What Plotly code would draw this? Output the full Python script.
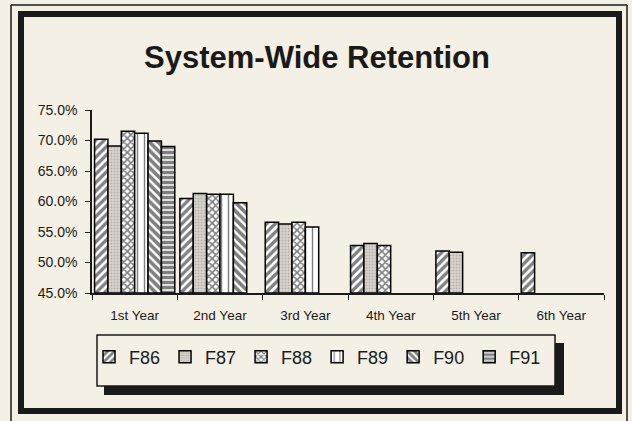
import plotly.graph_objects as go

categories = ["1st Year", "2nd Year", "3rd Year", "4th Year", "5th Year", "6th Year"]
series_names = ["F86", "F87", "F88", "F89", "F90", "F91"]
f86 = [70.2, 60.5, 56.6, 52.8, 51.9, 51.6]
f87 = [69.1, 61.3, 56.3, 53.1, 51.7, None]
f88 = [71.5, 61.2, 56.6, 52.8, None, None]
f89 = [71.2, 61.2, 55.8, None, None, None]
f90 = [69.9, 59.8, None, None, None, None]
f91 = [69.0, None, None, None, None, None]
series_values = [f86, f87, f88, f89, f90, f91]
y_ticks = [45, 50, 55, 60, 65, 70, 75]
y_tick_labels = ["45.0%", "50.0%", "55.0%", "60.0%", "65.0%", "70.0%", "75.0%"]

BG = "#f4f0e5"
INK = "#1a1a1a"
W, H = 632, 421
L, R, T, B = 92, 604, 110, 293
FONT = "Arial, Liberation Sans, sans-serif"

patterns = [
    dict(shape="/", fgcolor="black", bgcolor="white", size=6, solidity=0.55),
    dict(shape=".", fgcolor="#8f8a84", bgcolor="#d9d4cd", size=3, solidity=0.3),
    dict(shape="x", fgcolor="black", bgcolor="white", size=5, solidity=0.55),
    dict(shape="|", fgcolor="black", bgcolor="white", size=7, solidity=0.2),
    dict(shape="\\", fgcolor="black", bgcolor="white", size=6, solidity=0.6),
    dict(shape="-", fgcolor="black", bgcolor="white", size=5, solidity=0.7),
]

fig = go.Figure()
for name, vals, pat in zip(series_names, series_values, patterns):
    fig.add_trace(go.Bar(
        name=name, x=categories, y=[v - 45 if v is not None else None for v in vals],
        base=45,
        marker=dict(color=pat["bgcolor"], pattern=pat, line=dict(color="black", width=1.5)),
    ))

def px(x):
    return (x - L) / (R - L)

def py(y):
    return (B - y) / (B - T)

shapes = []
# outer thin frame
for (x0, y0, x1, y1) in [(11, 5, 11, 421), (11, 5, 627, 5), (627, 5, 627, 421)]:
    shapes.append(dict(type="line", xref="paper", yref="paper", x0=px(x0), y0=py(y0), x1=px(x1), y1=py(y1),
                       line=dict(color=INK, width=1.5)))
# thick frame
shapes.append(dict(type="rect", xref="paper", yref="paper", x0=px(21), y0=py(14), x1=px(619), y1=py(411),
                   line=dict(color=INK, width=6)))
# legend shadow and box
shapes.append(dict(type="rect", xref="paper", yref="paper", x0=px(104), y0=py(343), x1=px(564), y1=py(395),
                   fillcolor=INK, line=dict(width=0)))
shapes.append(dict(type="rect", xref="paper", yref="paper", x0=px(97), y0=py(335), x1=px(555), y1=py(386),
                   fillcolor=BG, line=dict(color=INK, width=1.5)))

fig.update_layout(
    width=W, height=H,
    margin=dict(l=L, r=W - R, t=T, b=H - B, pad=0),
    paper_bgcolor=BG, plot_bgcolor="rgba(0,0,0,0)",
    font=dict(family=FONT, color=INK),
    title=dict(text="<b>System-Wide Retention</b>", x=317 / W, xref="container", xanchor="center",
               y=1 - 57 / H, yref="container", yanchor="middle",
               font=dict(size=31, family=FONT, color=INK)),
    barmode="group", bargap=0.06, bargroupgap=0,
    showlegend=True,
    legend=dict(orientation="h", x=px(89), y=py(357), xanchor="left", yanchor="middle",
                bgcolor="rgba(0,0,0,0)", borderwidth=0,
                font=dict(size=18, family=FONT, color=INK),
                itemwidth=30, traceorder="normal"),
    shapes=shapes,
)
fig.update_xaxes(type="category", showline=True, linecolor=INK, linewidth=1.5,
                 ticks="outside", tickson="boundaries", ticklen=5, tickcolor=INK,
                 tickfont=dict(size=13.5), ticklabelstandoff=9, showgrid=False, zeroline=False)
fig.update_yaxes(range=[45, 75], tickvals=y_ticks, ticktext=y_tick_labels, showline=True,
                 linecolor=INK, linewidth=1.5, ticks="outside", ticklen=5, tickcolor=INK,
                 tickfont=dict(size=14), ticklabelstandoff=5, showgrid=False, zeroline=False)

fig.write_html("out.html", config={"displayModeBar": False},
               post_script="document.body.style.margin='0';")
